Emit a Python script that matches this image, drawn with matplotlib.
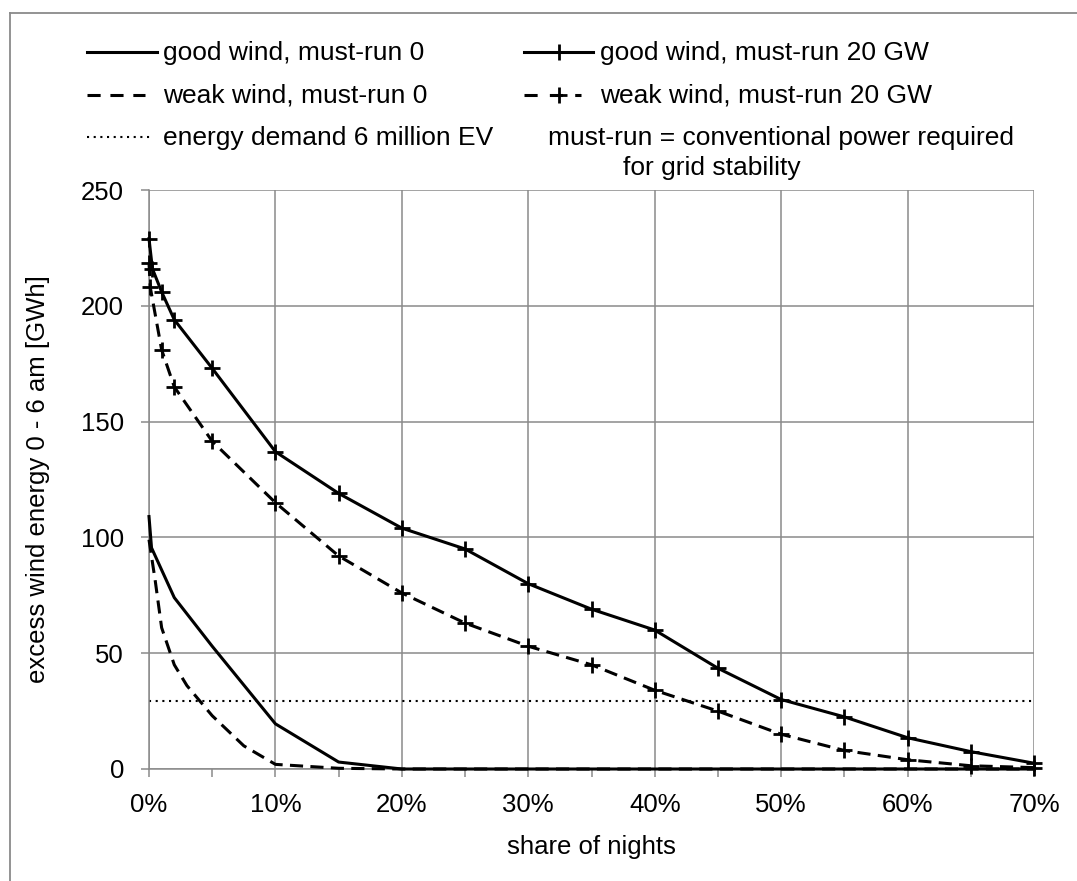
import matplotlib
matplotlib.use("Agg")
import matplotlib.pyplot as plt
from matplotlib.lines import Line2D
from matplotlib.ticker import FixedLocator, FuncFormatter

plt.rcParams['font.family'] = ['Liberation Sans', 'DejaVu Sans']

# ---- data (share of nights in %, excess wind energy in GWh) ----
good20_x = [0, 0.27, 1, 2, 5, 10, 15, 20, 25, 30, 35, 40, 45, 50, 55, 60, 65, 70]
good20_y = [229, 216, 206, 194, 173, 137, 119, 104, 95, 80, 69, 60, 43.5, 30, 22.5, 13.5, 7.5, 2.5]

weak20_x = [0, 0.1, 1, 2, 5, 10, 15, 20, 25, 30, 35, 40, 45, 50, 55, 60, 65, 70]
weak20_y = [218.5, 208, 181, 165, 141.5, 115, 92, 76, 63, 53, 45, 34, 25, 15, 8, 4, 1.4, 0.6]

good0_x = [0, 0.2, 2, 5, 10, 15, 20, 25, 30, 35, 40, 45, 50, 55, 60, 65, 70]
good0_y = [109, 95.5, 74, 53, 19.5, 3, 0, 0, 0, 0, 0, 0, 0, 0, 0, 0, 0]

weak0_x = [0, 0.5, 1, 2, 3, 5, 7.5, 10, 15, 20, 25, 30, 35, 40, 45, 50, 55, 60, 65, 70]
weak0_y = [99, 81, 61, 45, 36, 23, 10, 2, 0.3, 0, 0, 0, 0, 0, 0, 0, 0, 0, 0, 0]

demand_x = [0, 70]
demand_y = [29.5, 29.5]

x_ticks = [0, 10, 20, 30, 40, 50, 60, 70]
y_ticks = [0, 50, 100, 150, 200, 250]

labels = ["good wind, must-run 0", "good wind, must-run 20 GW",
          "weak wind, must-run 0", "weak wind, must-run 20 GW",
          "energy demand 6 million EV"]
note_lines = ["must-run = conventional power required", "for grid stability"]

W, H = 1077, 881
fig = plt.figure(figsize=(W / 100, H / 100), dpi=100)
ax = fig.add_axes([149 / W, 1 - 769 / H, (1034 - 149) / W, (769 - 190) / H])

GRID = '#8a8a8a'
FS = 18.5
LW = 2.2
DASH = (4.3, 2.4)

ax.set_xlim(0, 70)
ax.set_ylim(0, 250)
ax.xaxis.set_major_locator(FixedLocator(x_ticks))
ax.xaxis.set_minor_locator(FixedLocator(list(range(5, 70, 10))))
ax.yaxis.set_major_locator(FixedLocator(y_ticks))
ax.xaxis.set_major_formatter(FuncFormatter(lambda v, p: f"{int(round(v))}%"))
ax.grid(True, which='major', color=GRID, linewidth=1.1, zorder=0)
ax.set_axisbelow(True)
for s in ['top', 'right']:
    ax.spines[s].set_visible(False)
for s in ['left', 'bottom']:
    ax.spines[s].set_color(GRID)
    ax.spines[s].set_linewidth(1.1)
ax.tick_params(axis='both', which='both', direction='out', length=6, width=1.1,
               color=GRID, labelsize=FS, labelcolor='black')
ax.tick_params(axis='y', pad=12)
ax.tick_params(axis='x', pad=11)

# series
ax.plot(demand_x, demand_y, color='black', lw=1.5, linestyle=(0, (1, 2.2)), zorder=2)
ax.plot(good0_x, good0_y, color='black', lw=LW, zorder=3, clip_on=False)
ax.plot(weak0_x, weak0_y, color='black', lw=LW, linestyle=(0, DASH), zorder=3, clip_on=False)
ax.plot(good20_x, good20_y, color='black', lw=LW, marker='+', ms=12, mew=2,
        zorder=4, clip_on=False)
ax.plot(weak20_x, weak20_y, color='black', lw=LW, linestyle=(0, DASH), marker='+',
        ms=12, mew=2, zorder=4, clip_on=False)

ax.set_xlabel("share of nights", fontsize=FS, labelpad=13)
ax.set_ylabel("excess wind energy 0 - 6 am [GWh]", fontsize=FS, labelpad=22)


# ---- manual legend in figure pixel coordinates ----
def fx(px):
    return px / W


def fy(py):
    return 1 - py / H


rows = [52, 95, 137]
# col 1
fig.add_artist(Line2D([fx(87), fx(157)], [fy(rows[0])] * 2, color='black', lw=LW))
fig.add_artist(Line2D([fx(87), fx(145)], [fy(rows[1])] * 2, color='black', lw=LW,
                      linestyle=(0, (4.3, 3.2))))
fig.add_artist(Line2D([fx(87), fx(153)], [fy(rows[2])] * 2, color='black', lw=1.5,
                      linestyle=(0, (1, 2.2))))
# col 2
fig.add_artist(Line2D([fx(524), fx(593)], [fy(rows[0])] * 2, color='black', lw=LW))
fig.add_artist(Line2D([fx(559)], [fy(rows[0])], color='black', marker='+', ms=12, mew=2,
                      linestyle='none'))
fig.add_artist(Line2D([fx(524), fx(581)], [fy(rows[1])] * 2, color='black', lw=LW,
                      linestyle=(0, (4.3, 4.0))))
fig.add_artist(Line2D([fx(559)], [fy(rows[1])], color='black', marker='+', ms=12, mew=2,
                      linestyle='none'))

TFS = 19
fig.text(fx(163), fy(rows[0] + 1), labels[0], fontsize=TFS, va='center', ha='left')
fig.text(fx(600), fy(rows[0] + 1), labels[1], fontsize=TFS, va='center', ha='left')
fig.text(fx(163), fy(rows[1] + 1), labels[2], fontsize=TFS, va='center', ha='left')
fig.text(fx(600), fy(rows[1] + 1), labels[3], fontsize=TFS, va='center', ha='left')
fig.text(fx(163), fy(rows[2] + 1), labels[4], fontsize=TFS, va='center', ha='left')
fig.text(fx(548), fy(rows[2] + 1), note_lines[0], fontsize=TFS, va='center', ha='left')
fig.text(fx(623), fy(168), note_lines[1], fontsize=TFS, va='center', ha='left')

# chart frame (top and left edges visible)
fig.add_artist(Line2D([fx(9.5), fx(W)], [fy(13), fy(13)], color=GRID, lw=1.3))
fig.add_artist(Line2D([fx(9.5), fx(9.5)], [fy(13), fy(H)], color=GRID, lw=1.3))

fig.savefig("out.png", dpi=100)
